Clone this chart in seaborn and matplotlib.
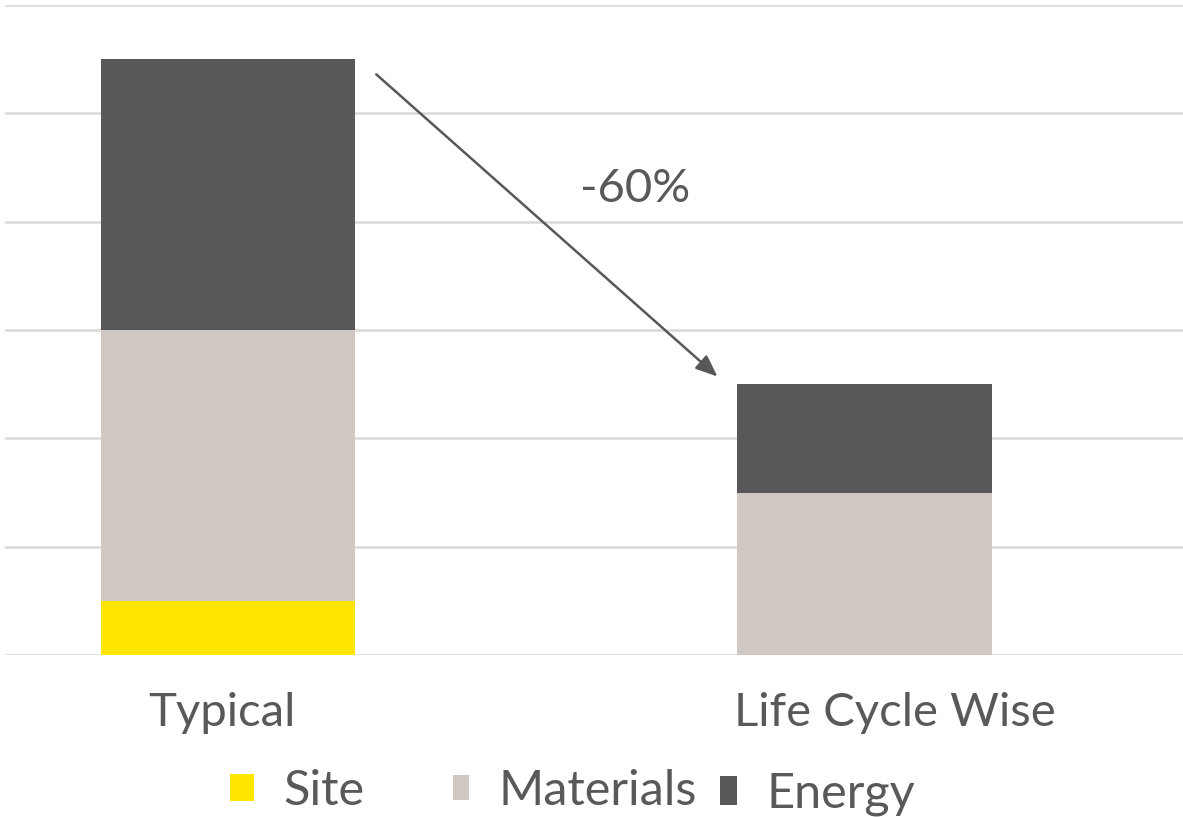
import matplotlib
matplotlib.use("Agg")
import matplotlib.pyplot as plt
from matplotlib.patches import Patch
import numpy as np
import pandas as pd
import seaborn as sns

categories = ["Typical", "Life Cycle Wise"]
site = [0.5, 0.0]
materials = [2.5, 1.5]
energy = [2.5, 1.0]
series_names = ["Site", "Materials", "Energy"]
series_colors = ["#FFE600", "#D0C9C3", "#58585A"]
change_label = "-60%"

sns.set_theme(style="white")
plt.rcParams["font.family"] = ["Lato", "DejaVu Sans"]
text_color = "#595959"

W, H = 1183, 817
fig = plt.figure(figsize=(W / 100, H / 100), dpi=100)
ax = fig.add_axes([5 / W, 1 - 655 / H, 1 - 5 / W, 650 / H])

df = pd.DataFrame({"category": categories, "Site": site,
                   "Materials": materials, "Energy": energy})
bottom = np.zeros(len(categories))
for name, color in zip(series_names, series_colors):
    sns.barplot(data=df, x="category", y=name, color=color, width=0.4,
                bottom=bottom, ax=ax, saturation=1, linewidth=0, zorder=3)
    bottom = bottom + df[name].to_numpy()

ax.set_xlim(-0.35, 1.5)
ax.set_ylim(0, 6)
ax.set_yticks(np.arange(0, 7, 1))
ax.yaxis.grid(True, color="#D9D9D9", linewidth=1.8, zorder=0)
ax.set_yticklabels([])
ax.tick_params(axis="y", length=0)
# category labels sit slightly off the bar centres
ax.set_xticks([-0.01, 1.047])
ax.set_xticklabels(categories)
ax.tick_params(axis="x", length=0, labelsize=34, labelcolor=text_color, pad=27)
ax.set_xlabel("")
ax.set_ylabel("")
for s in ax.spines.values():
    s.set_visible(False)

# arrow between the two stacks
ax.annotate("", xy=(0.769, 2.57), xytext=(0.233, 5.36),
            arrowprops=dict(arrowstyle="-|>,head_length=1.1,head_width=0.45",
                            color="#58585A", lw=1.8, shrinkA=0, shrinkB=0),
            zorder=5)
ax.text(0.64, 4.3, change_label, fontsize=34, color=text_color,
        ha="center", va="center")

# one legend entry per series, each placed on its own
legend_fs = 35
entries = [
    # (left px, centre y px, handle w, handle h)
    (230, 791, 0.49, 0.49),
    (453, 791, 0.33, 0.43),
    (720, 794, 0.35, 0.51),
]
for (name, color), (lx, cy, hl, hh) in zip(zip(series_names, series_colors), entries):
    leg = fig.legend([Patch(facecolor=color, edgecolor="none")], [name],
                     loc="center left", bbox_to_anchor=(lx / W, 1 - cy / H),
                     frameon=False, fontsize=legend_fs, labelcolor=text_color,
                     handlelength=hl, handleheight=hh, handletextpad=0.6,
                     borderpad=0, borderaxespad=0)

fig.savefig("out.png", dpi=100)
